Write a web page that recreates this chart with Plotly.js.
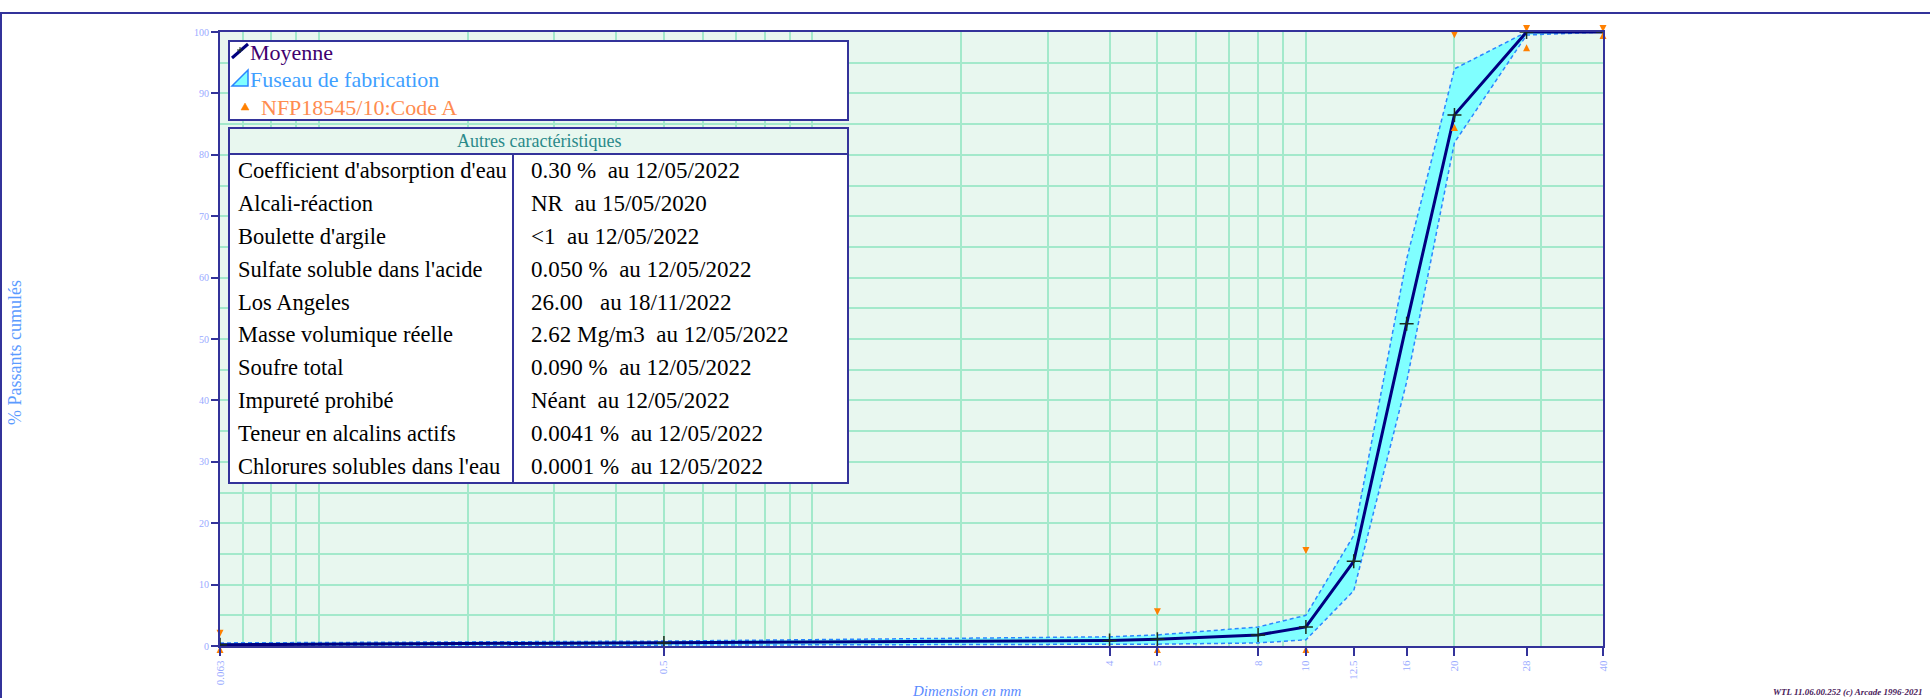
<!DOCTYPE html>
<html>
<head>
<meta charset="utf-8">
<script src="https://cdn.plot.ly/plotly-3.0.1.min.js"></script>
<style>
html,body{margin:0;padding:0;background:#ffffff;}
#chart{width:1930px;height:698px;}
</style>
</head>
<body>
<div id="chart"></div>
<script>
// ---- data ----
const sieves = [0.063, 0.5, 4, 5, 8, 10, 12.5, 16, 20, 28, 40];
const sieveLabels = ['0.063', '0.5', '4', '5', '8', '10', '12.5', '16', '20', '28', '40'];
const moyenne = [0.2, 0.5, 0.9, 1.1, 1.8, 3.1, 13.8, 52.5, 86.5, 100, 100];
const fuseauHaut = [0.5, 0.8, 1.5, 1.8, 3.1, 5.0, 18, 63, 94, 100, 100];
const fuseauBas = [0, 0.1, 0.2, 0.3, 0.5, 1.0, 9, 43, 82, 99.5, 100];
const specSieves = [0.063, 5, 10, 20, 28, 40];
const specMin = [0, 0, 0, 85, 98, 100];
const specMax = [1.5, 5, 15, 99, 100, 100];
const gridVals = [0.07, 0.08, 0.09, 0.1, 0.2, 0.3, 0.4, 0.5, 0.6, 0.7, 0.8, 0.9,
                  1, 2, 3, 4, 5, 6, 7, 8, 9, 10, 20, 30];
const legendLabels = ['Moyenne', 'Fuseau de fabrication', 'NFP18545/10:Code A'];
const tableTitle = 'Autres caractéristiques';
const propNames = ["Coefficient d'absorption d'eau", 'Alcali-réaction', "Boulette d'argile",
  "Sulfate soluble dans l'acide", 'Los Angeles', 'Masse volumique réelle', 'Soufre total',
  'Impureté prohibé', 'Teneur en alcalins actifs', "Chlorures solubles dans l'eau"];
const propValues = ['0.30 %  au 12/05/2022', 'NR  au 15/05/2020', '<1  au 12/05/2022',
  '0.050 %  au 12/05/2022', '26.00   au 18/11/2022', '2.62 Mg/m3  au 12/05/2022',
  '0.090 %  au 12/05/2022', 'Néant  au 12/05/2022', '0.0041 %  au 12/05/2022',
  '0.0001 %  au 12/05/2022'];
const xTitle = 'Dimension en mm';
const yTitle = '% Passants cumulés';
const footer = 'WTL 11.06.00.252 (c) Arcade 1996-2021';

// ---- geometry helpers (pixel -> paper) ----
const W = 1930, H = 698;
const PL = 220, PR = 1603, PT = 32, PB = 646;
const xp = px => (px - PL) / (PR - PL);
const yp = py => (PB - py) / (PB - PT);
const esc = s => s.replace(/&/g, '&amp;').replace(/</g, '&lt;').replace(/>/g, '&gt;');

const NAVY = '#33339a';
const GRID = '#a3e9cb';
const SERIF = 'Liberation Serif';
const BAND_LINE = '#2a86ff';

const traces = [
  { x: sieves, y: fuseauBas, mode: 'lines', line: { color: BAND_LINE, width: 1.5, dash: '4px,3px' },
    hoverinfo: 'skip', showlegend: false },
  { x: sieves, y: fuseauHaut, mode: 'lines', fill: 'tonexty', fillcolor: '#80ffff',
    line: { color: BAND_LINE, width: 1.5, dash: '4px,3px' }, name: legendLabels[1], showlegend: false },
  { x: sieves, y: moyenne, mode: 'lines+markers', name: legendLabels[0], showlegend: false,
    line: { color: '#000080', width: 3 },
    marker: { symbol: 'cross-thin', size: 10, color: '#1b2e1b', line: { color: '#1b2e1b', width: 1.5 } } },
  { x: specSieves, y: specMin, mode: 'markers', name: legendLabels[2], showlegend: false, cliponaxis: false,
    marker: { symbol: 'arrow-up', size: 7, color: '#ff8000' } },
  { x: specSieves, y: specMax, mode: 'markers', showlegend: false, cliponaxis: false,
    marker: { symbol: 'arrow-down', size: 7, color: '#ff8000' } }
];

const shapes = [];
const annotations = [];

// outer frame
shapes.push({ type: 'line', xref: 'paper', yref: 'paper', x0: xp(0), x1: xp(W), y0: yp(13), y1: yp(13),
  line: { color: NAVY, width: 2 } });
shapes.push({ type: 'line', xref: 'paper', yref: 'paper', x0: xp(1), x1: xp(1), y0: yp(13), y1: yp(H + 5),
  line: { color: NAVY, width: 2 } });

// legend box
const LX0 = 229, LX1 = 848;
shapes.push({ type: 'rect', xref: 'paper', yref: 'paper', layer: 'above',
  x0: xp(LX0), x1: xp(LX1), y0: yp(41), y1: yp(120), fillcolor: '#ffffff', line: { color: NAVY, width: 2 } });
// Moyenne icon
shapes.push({ type: 'line', xref: 'paper', yref: 'paper', layer: 'above',
  x0: xp(232), y0: yp(58), x1: xp(248), y1: yp(44), line: { color: '#000080', width: 3 } });
shapes.push({ type: 'line', xref: 'paper', yref: 'paper', layer: 'above',
  x0: xp(237), y0: yp(50), x1: xp(243), y1: yp(50), line: { color: '#1b2e1b', width: 1 } });
shapes.push({ type: 'line', xref: 'paper', yref: 'paper', layer: 'above',
  x0: xp(240), y0: yp(47), x1: xp(240), y1: yp(53), line: { color: '#1b2e1b', width: 1 } });
// Fuseau icon
shapes.push({ type: 'path', xref: 'paper', yref: 'paper', layer: 'above',
  path: `M${xp(232)},${yp(86)} L${xp(248)},${yp(86)} L${xp(248)},${yp(70)} Z`,
  fillcolor: '#80ffff', line: { color: BAND_LINE, width: 1.5 } });
// NFP icon
shapes.push({ type: 'path', xref: 'paper', yref: 'paper', layer: 'above',
  path: `M${xp(241)},${yp(110)} L${xp(249)},${yp(110)} L${xp(245)},${yp(103)} Z`,
  fillcolor: '#ff8000', line: { color: '#ff8000', width: 0.5 } });

const legendColors = ['#40006e', '#3f9fff', '#ff8c50'];
const legendY = [52, 79, 107];
const legendX = [248, 248, 259];
legendLabels.forEach((t, i) => annotations.push({
  xref: 'paper', yref: 'paper', x: xp(legendX[i]), y: yp(legendY[i]), xanchor: 'left', yanchor: 'middle',
  text: esc(t), showarrow: false, font: { family: SERIF, size: 22, color: legendColors[i] } }));

// table
const TY0 = 128, THd = 154, TY1 = 483, TDIV = 513;
shapes.push({ type: 'rect', xref: 'paper', yref: 'paper', layer: 'above',
  x0: xp(LX0), x1: xp(LX1), y0: yp(TY0), y1: yp(TY1), fillcolor: '#ffffff', line: { color: NAVY, width: 2 } });
shapes.push({ type: 'rect', xref: 'paper', yref: 'paper', layer: 'above',
  x0: xp(LX0), x1: xp(LX1), y0: yp(TY0), y1: yp(THd), fillcolor: '#e8f7ef', line: { color: NAVY, width: 2 } });
shapes.push({ type: 'line', xref: 'paper', yref: 'paper', layer: 'above',
  x0: xp(TDIV), x1: xp(TDIV), y0: yp(THd), y1: yp(TY1), line: { color: NAVY, width: 2 } });
annotations.push({ xref: 'paper', yref: 'paper', x: xp((LX0 + LX1) / 2), y: yp((TY0 + THd) / 2),
  xanchor: 'center', yanchor: 'middle', text: esc(tableTitle), showarrow: false,
  font: { family: SERIF, size: 18, color: '#2a8a8a' } });
const rowH = (TY1 - THd) / propNames.length;
propNames.forEach((n, i) => {
  const cy = THd + rowH * (i + 0.5);
  annotations.push({ xref: 'paper', yref: 'paper', x: xp(236), y: yp(cy), xanchor: 'left', yanchor: 'middle',
    text: esc(n), showarrow: false, font: { family: SERIF, size: 22.5, color: '#000000' } });
  annotations.push({ xref: 'paper', yref: 'paper', x: xp(529), y: yp(cy), xanchor: 'left', yanchor: 'middle',
    text: esc(propValues[i]), showarrow: false, font: { family: SERIF, size: 23, color: '#000000' } });
});

// axis titles & footer
annotations.push({ xref: 'paper', yref: 'paper', x: xp(15), y: yp(352), xanchor: 'center', yanchor: 'middle',
  textangle: -90, text: esc(yTitle), showarrow: false, font: { family: SERIF, size: 18, color: '#5b9bff' } });
annotations.push({ xref: 'paper', yref: 'paper', x: xp(966), y: yp(691), xanchor: 'center', yanchor: 'middle',
  text: esc(xTitle), showarrow: false, font: { family: SERIF, size: 15, color: '#5b8bff', style: 'italic' } });
annotations.push({ xref: 'paper', yref: 'paper', x: xp(1925), y: yp(692), xanchor: 'right', yanchor: 'middle',
  text: '<b><i>' + esc(footer) + '</i></b>', showarrow: false, font: { family: SERIF, size: 9, color: '#4a1a5a' } });

const layout = {
  width: W, height: H, autosize: false,
  margin: { l: PL, r: W - PR, t: PT, b: H - PB, pad: 0 },
  paper_bgcolor: '#ffffff', plot_bgcolor: '#e8f7ef',
  showlegend: false,
  xaxis: {
    type: 'log', range: [Math.log10(sieves[0]), Math.log10(sieves[sieves.length - 1])],
    tickmode: 'array', tickvals: sieves, ticktext: sieveLabels, tickangle: -90,
    ticks: 'outside', ticklen: 8, tickwidth: 2, tickcolor: NAVY,
    tickfont: { family: SERIF, size: 11, color: '#99aaff' },
    showgrid: false, zeroline: false, showline: true, linecolor: NAVY, linewidth: 2, mirror: true,
    minor: { tickmode: 'array', tickvals: gridVals, showgrid: true, gridcolor: GRID, gridwidth: 2, ticks: '' }
  },
  yaxis: {
    range: [0, 100], tick0: 0, dtick: 10,
    ticks: 'outside', ticklen: 7, tickwidth: 2, tickcolor: NAVY,
    tickfont: { family: SERIF, size: 10, color: '#99aaff' },
    showgrid: true, gridcolor: GRID, gridwidth: 2, zeroline: false,
    showline: true, linecolor: NAVY, linewidth: 2, mirror: true,
    minor: { dtick: 5, showgrid: true, gridcolor: GRID, gridwidth: 2, ticks: '' }
  },
  shapes: shapes,
  annotations: annotations
};

Plotly.newPlot('chart', traces, layout, { displayModeBar: false, staticPlot: true });
</script>
</body>
</html>
